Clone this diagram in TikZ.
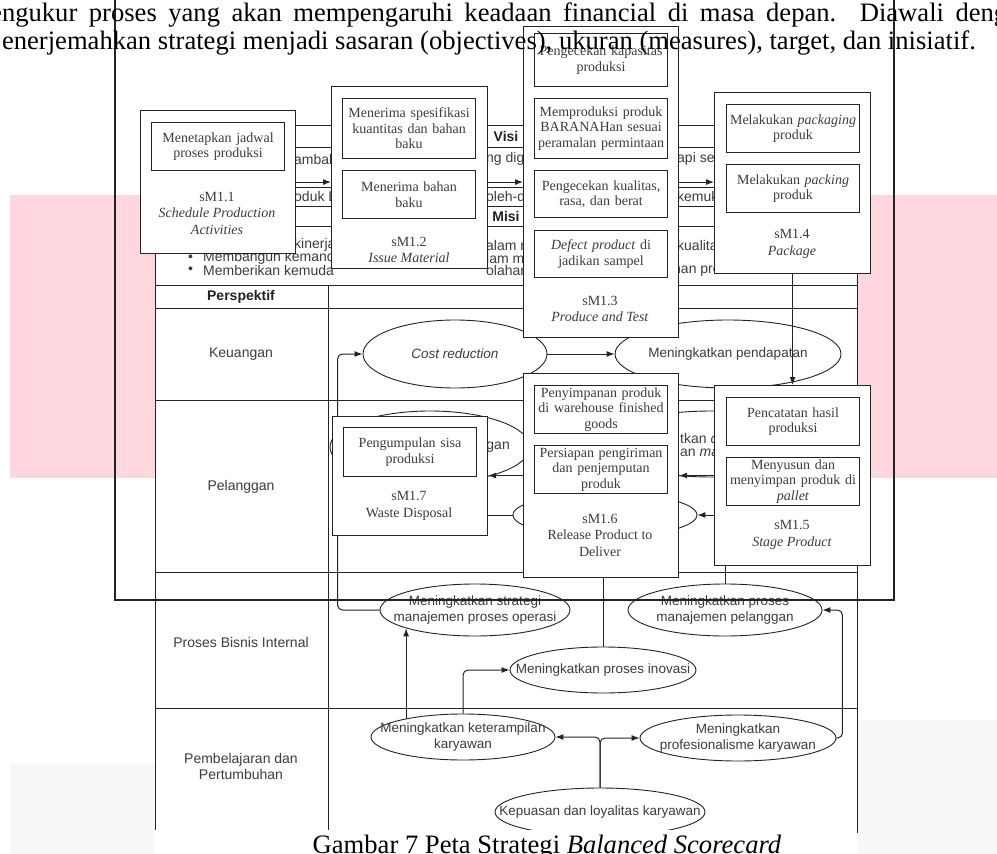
\documentclass[tikz,border=0pt]{standalone}
\usepackage{fontspec}
\setmainfont{Liberation Serif}
\setsansfont{Liberation Sans}
\usetikzlibrary{shapes.geometric,arrows.meta,positioning}

\definecolor{bandpink}{RGB}{253,215,221}
\definecolor{paperfog}{RGB}{248,248,248}
\definecolor{ink}{RGB}{35,35,35}
\definecolor{txt}{RGB}{60,60,60}

\tikzset{
  procbox/.style={draw=ink, line width=1.1pt, fill=white, anchor=north west, inner sep=0pt},
  actbox/.style={draw=ink, line width=1.1pt, fill=white, anchor=north west, inner sep=0pt,
    minimum width=133pt, text width=131pt, align=center, text=txt,
    font=\fontsize{14}{15.5}\selectfont},
  proclabel/.style={font=\fontsize{14}{16.5}\selectfont, text=txt, align=center},
  goal/.style={draw=ink, ellipse, line width=0.9pt, fill=white, inner sep=0pt},
  goaltext/.style={font=\sffamily\fontsize{13.5}{15.5}\selectfont, text=txt, align=center},
  tabletext/.style={font=\sffamily\fontsize{14}{16}\selectfont, text=txt, align=center},
  tablehead/.style={font=\sffamily\bfseries\fontsize{14}{16}\selectfont, text=ink},
  frag/.style={font=\sffamily\fontsize{14}{16}\selectfont, text=txt, anchor=west, inner sep=0pt},
  lane/.style={draw=ink, line width=0.9pt},
  flow/.style={draw=ink, line width=1pt, rounded corners=5pt, -{Latex[length=8pt,width=6pt]}},
  bodytext/.style={font=\fontsize{26.6}{28}\selectfont, inner sep=0pt},
}

\begin{document}
\begin{tikzpicture}[x=1pt, y=-1pt]
  \useasboundingbox (0,0) rectangle (997,854);

  % page background
  \fill[bandpink] (10,195) rectangle (997,478);
  \fill[paperfog] (10,764) rectangle (155,854);
  \fill[paperfog] (857,720) rectangle (997,854);

  % strategy map table
  \draw[lane, fill=white] (155,125) rectangle (857,832);
  \foreach \y in {147,187,206,226,285,308,400,572,708}
    \draw[lane] (155,\y) -- (857,\y);
  \draw[lane] (328,285) -- (328,832);

  \node[tablehead] (visi) at (506,136) {Visi};
  \node[tablehead] (misi) at (506,216) {Misi};
  \node[tablehead] (persp) at (241,297) {Perspektif};
  \node[tabletext] (keu) at (241,354) {Keuangan};
  \node[tabletext] (pel) at (241,487) {Pelanggan};
  \node[tabletext] (pbi) at (241,642) {Proses Bisnis Internal};
  \node[tabletext] (pp) at (241,766) {Pembelajaran dan\\Pertumbuhan};

  % visi / misi text showing between the boxes
  \node[frag] at (294,159) {ambak};
  \node[frag] at (486,159) {ng dig};
  \node[frag] at (677,159) {api seg};
  \node[frag] at (294,196) {oduk B};
  \node[frag] at (486,196) {oleh-d};
  \node[frag] at (677,196) {kemuk};
  \node[frag] at (294,245) {kinerja};
  \node[frag] at (486,245) {alam r};
  \node[frag] at (677,245) {kualita};
  \node[frag] at (188,258) {\textbullet};
  \node[frag] at (203,258) {Membangun kemand};
  \node[frag] at (486,258) {lam m};
  \node[frag] at (188,270) {\textbullet};
  \node[frag] at (203,270) {Memberikan kemuda};
  \node[frag] at (486,270) {olahar};
  \node[frag] at (673,270) {han produk.};

  % sasaran strategis
  \node[goal, minimum width=184pt, minimum height=68pt] (cost) at (455,354) {};
  \node[goaltext] at (cost) {\textit{Cost reduction}};
  \node[goal, minimum width=226pt, minimum height=68pt] (income) at (728,354) {};
  \node[goaltext] at (income) {Meningkatkan pendapatan};
  \node[goal, minimum width=200pt, minimum height=72pt] (custA) at (430,447) {};
  \node[goal, minimum width=230pt, minimum height=66pt] (custB) at (712,444) {};
  \node[goal, minimum width=184pt, minimum height=44pt] (custC) at (605,515) {};
  \node[frag, anchor=east] at (510,447) {gan};
  \node[frag] at (680,438) {tkan \textit{c}};
  \node[frag] at (680,453) {an \textit{ma}};
  \node[goal, minimum width=190pt, minimum height=52pt] (opsA) at (475,610) {};
  \node[goaltext] at (opsA) {Meningkatkan strategi\\manajemen proses operasi};
  \node[goal, minimum width=194pt, minimum height=52pt] (opsB) at (725,610) {};
  \node[goaltext] at (opsB) {Meningkatkan proses\\manajemen pelanggan};
  \node[goal, minimum width=186pt, minimum height=46pt] (innov) at (603,670) {};
  \node[goaltext] at (innov) {Meningkatkan proses inovasi};
  \node[goal, minimum width=184pt, minimum height=46pt] (skill) at (463,737) {};
  \node[goaltext] at (skill) {Meningkatkan keterampilan\\karyawan};
  \node[goal, minimum width=196pt, minimum height=46pt] (prof) at (738,738) {};
  \node[goaltext] at (prof) {Meningkatkan\\profesionalisme karyawan};
  \node[goal, minimum width=210pt, minimum height=48pt] (loyal) at (600,812) {};
  \node[goaltext] at (loyal) {Kepuasan dan loyalitas karyawan};

  \draw[flow] (cost.east) -- (income.west);
  \draw[flow] (opsA.west) -- ++(-42,0) |- (cost.west);
  \draw[flow] (skill.north) |- (innov.west);
  \draw[flow] (skill.162) -- (skill.162 |- opsA.195);
  \draw[flow] (prof.east) -- ++(6,0) |- (opsB.east);
  \draw[flow] (loyal.north) |- (skill.east);
  \draw[flow] (loyal.north) |- (prof.west);

  % sM1.1
  \node[procbox, minimum width=155pt, minimum height=143pt] (p11) at (140,110) {};
  \node[actbox, minimum height=48pt] (a11) at (151,122) {Menetapkan jadwal\\proses produksi};
  \node[proclabel] (l11) at (217,213) {sM1.1\\\textit{Schedule Production}\\\textit{Activities}};
  % sM1.2
  \node[procbox, minimum width=156pt, minimum height=182pt] (p12) at (331,86) {};
  \node[actbox, minimum height=60pt] (a12a) at (342,98) {Menerima spesifikasi\\kuantitas dan bahan\\baku};
  \node[actbox, minimum height=48pt] (a12b) at (342,170) {Menerima bahan\\baku};
  \node[proclabel] (l12) at (409,250) {sM1.2\\\textit{Issue Material}};
  % sM1.3
  \node[procbox, minimum width=155pt, minimum height=311pt] (p13) at (523,26) {};
  \node[actbox, minimum height=53pt] (a13a) at (534,33) {Pengecekan kapasitas\\produksi};
  \node[actbox, minimum height=60pt] (a13b) at (534,98) {Memproduksi produk\\BARANAHan sesuai\\peramalan permintaan};
  \node[actbox, minimum height=47pt] (a13c) at (534,170) {Pengecekan kualitas,\\rasa, dan berat};
  \node[actbox, minimum height=47pt] (a13d) at (534,230) {\textit{Defect product} di\\jadikan sampel};
  \node[proclabel] (l13) at (600,309) {sM1.3\\\textit{Produce and Test}};
  % sM1.4
  \node[procbox, minimum width=156pt, minimum height=181pt] (p14) at (714,92) {};
  \node[actbox, minimum height=48pt] (a14a) at (726,104) {Melakukan \textit{packaging}\\produk};
  \node[actbox, minimum height=48pt] (a14b) at (726,164) {Melakukan \textit{packing}\\produk};
  \node[proclabel] (l14) at (792,244) {sM1.4\\\textit{Package}};
  % sM1.5
  \node[procbox, minimum width=156pt, minimum height=180pt] (p15) at (714,385) {};
  \node[actbox, minimum height=48pt] (a15a) at (726,397) {Pencatatan hasil\\produksi};
  \node[actbox, minimum height=48pt] (a15b) at (726,457) {Menyusun dan\\menyimpan produk di\\\textit{pallet}};
  \node[proclabel] (l15) at (792,535) {sM1.5\\\textit{Stage Product}};
  % sM1.6
  \node[procbox, minimum width=155pt, minimum height=204pt] (p16) at (523,373) {};
  \node[actbox, minimum height=48pt] (a16a) at (534,385) {Penyimpanan produk\\di warehouse finished\\goods};
  \node[actbox, minimum height=48pt] (a16b) at (534,445) {Persiapan pengiriman\\dan penjemputan\\produk};
  \node[proclabel] (l16) at (600,535) {sM1.6\\Release Product to\\Deliver};
  % sM1.7
  \node[procbox, minimum width=155pt, minimum height=119pt] (p17) at (332,416) {};
  \node[actbox, minimum height=49pt] (a17) at (343,427) {Pengumpulan sisa\\produksi};
  \node[proclabel] (l17) at (409,506) {sM1.7\\Waste Disposal};

  % alur proses
  \draw[flow] (p11.east) -- (p11.east -| p12.west);
  \draw[flow] (p12.east |- p13.west) -- (p13.west);
  \draw[flow] (p13.east) -- (p13.east -| p14.west);
  \draw[flow] (p14.south) -- (p15.north);
  \draw[flow] (p15.west) -- (p16.east);
  \draw[flow] (p16.west) -- (p16.west -| p17.east);
  \draw[flow] (p15.west |- custC.east) -- (custC.east);
  \draw[lane] (p17.east |- custC.west) -- (custC.west);
  \draw[lane] (p16.south -| innov.north) -- (innov.north);
  \draw[lane] (p15.south -| opsB.north) -- (opsB.north);

  % frame of the pasted picture
  \draw[ink, line width=1.1pt] (115,-5) rectangle (894,600);

  % page text
  \node[bodytext, anchor=base west] (doc1) at (-10,21)
    {\makebox[1017pt][s]{engukur proses yang akan mempengaruhi keadaan financial di masa depan. Diawali deng}};
  \node[bodytext, anchor=base east] (doc2) at (976,49)
    {enerjemahkan strategi menjadi sasaran (objectives), ukuran (measures), target, dan inisiatif.};

  \fill[white] (155,830) rectangle (857,854);
  \node[bodytext, anchor=base] (cap) at (547,853) {Gambar 7 Peta Strategi \textit{Balanced Scorecard}};
\end{tikzpicture}
\end{document}
